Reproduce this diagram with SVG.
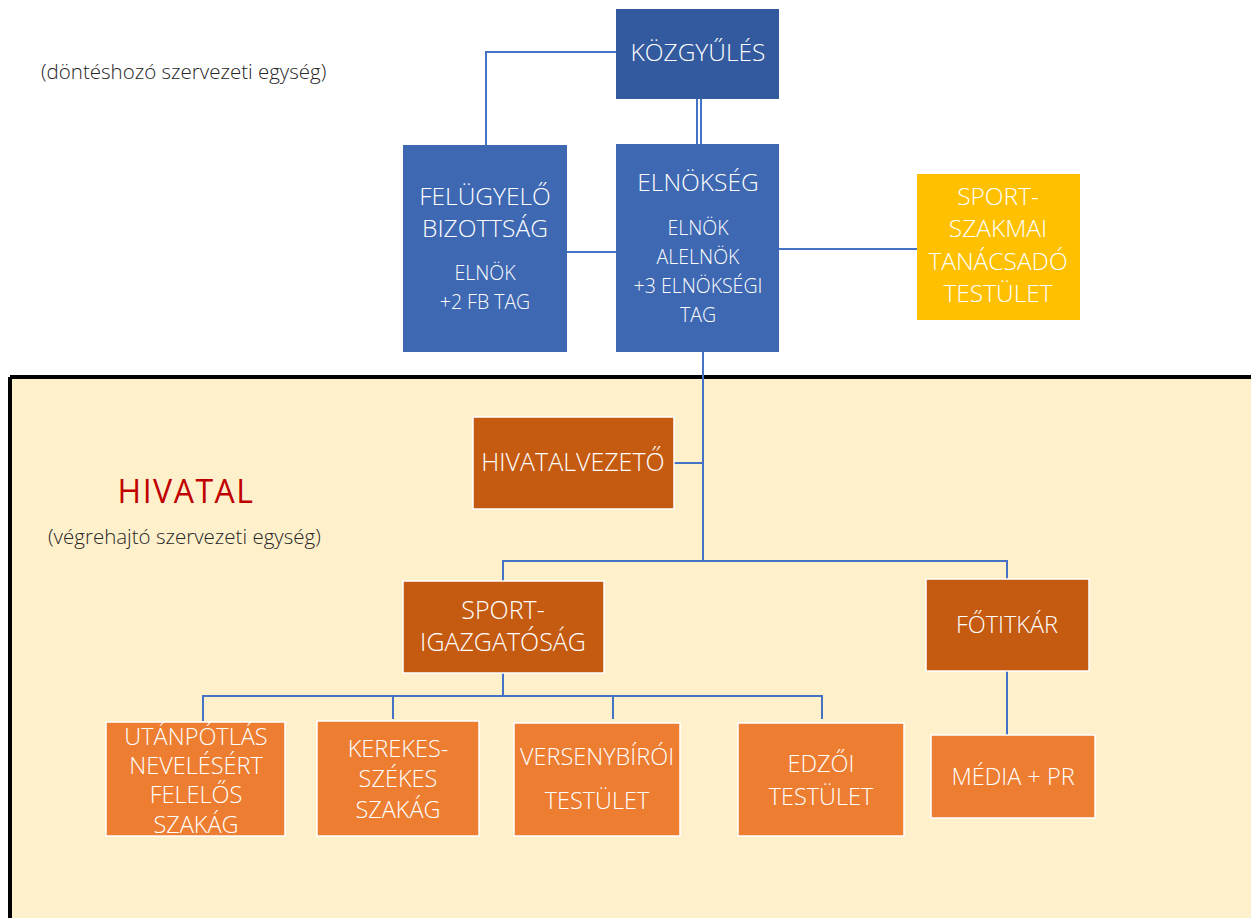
<svg xmlns="http://www.w3.org/2000/svg" width="1251" height="918" viewBox="0 0 1251 918">
<style>
text{font-family:"Open Sans","Noto Sans","DejaVu Sans",sans-serif;font-weight:300;}
.w{fill:#ffffff;text-anchor:middle;font-size:23.5px;}
.b{font-size:24.5px;}
.m{font-size:25px;}
.s{fill:#ffffff;text-anchor:middle;font-size:19.5px;}
.n{stroke:#ffffff;stroke-width:1.5;}
.c{stroke:#4472c4;stroke-width:2;fill:none;}
.note{fill:#262626;font-size:20.5px;}
</style>
<rect x="0" y="0" width="1251" height="918" fill="#ffffff"/>
<rect id="hivatal-area" x="11" y="377" width="1240" height="541" fill="#fff0cc"/>
<path d="M10,377 H1251 M10,377 V918" stroke="#000000" stroke-width="4" fill="none"/>

<text class="note" x="41" y="79">(döntéshozó szervezeti egység)</text>
<text x="186" y="503" fill="#c00000" font-size="32" font-weight="400" text-anchor="middle" letter-spacing="1.5" style="font-weight:400">HIVATAL</text>
<text class="note" x="48" y="544">(végrehajtó szervezeti egység)</text>

<g id="connectors">
<path class="c" d="M616,52 H486 V145"/>
<path class="c" d="M697,99 V144 M701,99 V144"/>
<path class="c" d="M567,252 H616"/>
<path class="c" d="M779,249 H917"/>
<path class="c" d="M703,352 V561"/>
<path class="c" d="M674,463 H703"/>
<path class="c" d="M503,581 V561 H1007 V579"/>
<path class="c" d="M503,673 V696"/>
<path class="c" d="M203,721 V696 H822 V719"/>
<path class="c" d="M393,696 V719 M613,696 V719"/>
<path class="c" d="M1007,671 V735"/>
</g>

<g id="kozgyules">
<rect x="616" y="9" width="163" height="90" fill="#335a9e"/>
<text class="w b" x="698" y="61">KÖZGYŰLÉS</text>
</g>
<g id="felugyelo">
<rect x="403" y="145" width="164" height="207" fill="#3e68b2"/>
<text class="w b" x="485" y="205">FELÜGYELŐ</text>
<text class="w b" x="485" y="237">BIZOTTSÁG</text>
<text class="s" x="485" y="280">ELNÖK</text>
<text class="s" x="485" y="309">+2 FB TAG</text>
</g>
<g id="elnokseg">
<rect x="616" y="144" width="163" height="208" fill="#3e68b2"/>
<text class="w b" x="698" y="191">ELNÖKSÉG</text>
<text class="s" x="698" y="235">ELNÖK</text>
<text class="s" x="698" y="264">ALELNÖK</text>
<text class="s" x="698" y="293">+3 ELNÖKSÉGI</text>
<text class="s" x="698" y="322">TAG</text>
</g>
<g id="sportszakmai">
<rect x="917" y="174" width="163" height="146" fill="#ffc000"/>
<text class="w b" x="998" y="205">SPORT-</text>
<text class="w b" x="998" y="237">SZAKMAI</text>
<text class="w b" x="998" y="270">TANÁCSADÓ</text>
<text class="w b" x="998" y="302">TESTÜLET</text>
</g>
<g id="hivatalvezeto">
<rect class="n" x="473" y="417" width="201" height="92" fill="#c55a11"/>
<text class="w m" x="573" y="471">HIVATALVEZETŐ</text>
</g>
<g id="sportigazgatosag">
<rect class="n" x="403" y="581" width="201" height="92" fill="#c55a11"/>
<text class="w m" x="503" y="619">SPORT-</text>
<text class="w m" x="503" y="651">IGAZGATÓSÁG</text>
</g>
<g id="fotitkar">
<rect class="n" x="926" y="579" width="163" height="92" fill="#c55a11"/>
<text class="w" x="1007" y="633">FŐTITKÁR</text>
</g>
<g id="utanpotlas">
<rect class="n" x="106" y="722" width="179" height="114" fill="#ed7d31"/>
<text class="w" x="196" y="745">UTÁNPÓTLÁS</text>
<text class="w" x="196" y="774">NEVELÉSÉRT</text>
<text class="w" x="196" y="803">FELELŐS</text>
<text class="w" x="196" y="833">SZAKÁG</text>
</g>
<g id="kerekesszekes">
<rect class="n" x="317" y="721" width="162" height="115" fill="#ed7d31"/>
<text class="w" x="398" y="757">KEREKES-</text>
<text class="w" x="398" y="787">SZÉKES</text>
<text class="w" x="398" y="818">SZAKÁG</text>
</g>
<g id="versenybiroi">
<rect class="n" x="514" y="723" width="166" height="113" fill="#ed7d31"/>
<text class="w" x="597" y="765">VERSENYBÍRÓI</text>
<text class="w" x="597" y="809">TESTÜLET</text>
</g>
<g id="edzoi">
<rect class="n" x="738" y="723" width="166" height="113" fill="#ed7d31"/>
<text class="w" x="821" y="772">EDZŐI</text>
<text class="w" x="821" y="805">TESTÜLET</text>
</g>
<g id="media">
<rect class="n" x="931" y="735" width="164" height="83" fill="#ed7d31"/>
<text class="w" x="1013" y="785">MÉDIA + PR</text>
</g>
</svg>
